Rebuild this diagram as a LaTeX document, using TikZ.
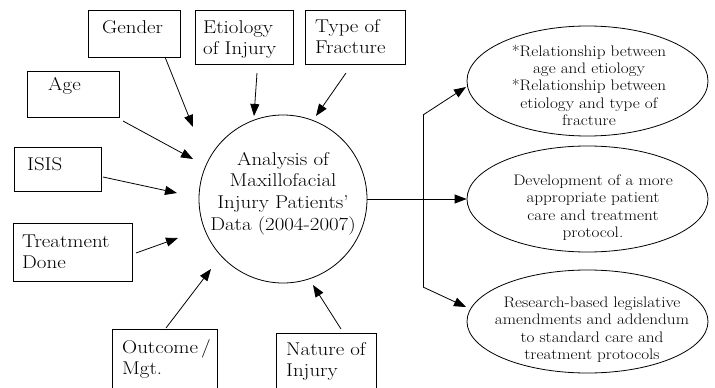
\documentclass[tikz,border=0pt]{standalone}
\usepackage{fontspec}
\setmainfont{Latin Modern Roman}[FakeStretch=1.13]
\usetikzlibrary{arrows.meta,shapes.geometric}
\newcommand\bigtxt{\fontsize{18.5}{21.5}\selectfont}
\newcommand\smalltxt{\fontsize{15.2}{17.5}\selectfont}
\begin{document}
\begin{tikzpicture}[x=1pt,y=-1pt,
  boxst/.style={draw, line width=0.8pt, anchor=north west, inner sep=0pt, outer sep=0pt},
  lbl/.style={anchor=base west, inner sep=0pt, align=left, text width=#1, font=\bigtxt},
  lbl/.default=110pt,
  ctxt/.style={anchor=base, inner sep=0pt, align=center, text width=#1},
  ellst/.style={draw, ellipse, line width=0.8pt, inner sep=0pt, minimum width=241pt, minimum height=#1},
  arr/.style={-{Triangle[length=12pt,width=9pt]}, line width=0.8pt},
  ln/.style={line width=0.8pt}]
\useasboundingbox (0,0) rectangle (715,388);
\fill[white] (0,0) rectangle (715,388);
\clip (0,0) rectangle (715,388);

% input boxes
\node[boxst, minimum width=92pt, minimum height=47pt] (gender) at (88,10) {};
\node[boxst, minimum width=98pt, minimum height=54pt] (etio) at (195,10) {};
\node[boxst, minimum width=100pt, minimum height=54pt] (type) at (305,10) {};
\node[boxst, minimum width=92pt, minimum height=46pt] (age) at (27,71) {};
\node[boxst, minimum width=87pt, minimum height=44pt] (isis) at (14,147) {};
\node[boxst, minimum width=119pt, minimum height=58pt] (treat) at (13,223) {};
\node[boxst, minimum width=105pt, minimum height=80pt] (outc) at (112,329) {};
\node[boxst, minimum width=100pt, minimum height=80pt] (natu) at (276,333) {};

% labels
\node[lbl] (tGender) at (102,33) {Gender};
\node[lbl] (tEtio) at (203,33) {Etiology\\of Injury};
\node[lbl] (tType) at (315,32) {Type of\\Fracture};
\node[lbl] (tAge) at (48,90) {Age};
\node[lbl] (tIsis) at (27,170) {ISIS};
\node[lbl] (tTreat) at (22,247) {Treatment\\Done};
\node[lbl] (tOutc) at (122,353) {Outcome\,/\\Mgt.};
\node[lbl] (tNatu) at (286,355) {Nature of\\Injury};

% central circle
\node[draw, circle, line width=0.8pt, minimum size=168pt, inner sep=0pt] (circ) at (283,199) {};
\node[ctxt=170pt, font=\fontsize{18.5}{21.7}\selectfont] (tCirc) at (283,165)
  {Analysis of\\Maxillofacial\\Injury Patients’\\Data (2004-2007)};

% output ellipses
\node[ellst=110pt] (e1) at (587.5,81) {};
\node[ellst=106pt] (e2) at (587.5,199) {};
\node[ellst=103pt] (e3) at (587.5,321.5) {};
\node[ctxt=230pt, font=\smalltxt] (tE1) at (589,56)
  {{*}Relationship between\\age and etiology\\{*}Relationship between\\etiology and type of\\fracture};
\node[ctxt=230pt, font=\smalltxt] (tE2) at (593,185)
  {Development of a more\\appropriate patient\\care and treatment\\protocol.};
\node[ctxt=230pt, font=\smalltxt] (tE3) at (592,307)
  {Research-based legislative\\amendments and addendum\\to standard care and\\treatment protocols};

% incoming arrows
\coordinate (sG) at (165,57);  \coordinate (hG) at (193,127);
\coordinate (sE) at (257,73);  \coordinate (hE) at (254,116);
\coordinate (sT) at (346,73);  \coordinate (hT) at (316,116);
\coordinate (sA) at (123,121); \coordinate (hA) at (193,159);
\coordinate (sI) at (103,177); \coordinate (hI) at (177,193);
\coordinate (sR) at (136,253); \coordinate (hR) at (178,238);
\coordinate (sO) at (166,328); \coordinate (hO) at (211,269);
\coordinate (sN) at (341,329); \coordinate (hN) at (313,285);
\draw[arr] (sG) -- (hG);
\draw[arr] (sE) -- (hE);
\draw[arr] (sT) -- (hT);
\draw[arr] (sA) -- (hA);
\draw[arr] (sI) -- (hI);
\draw[arr] (sR) -- (hR);
\draw[arr] (sO) -- (hO);
\draw[arr] (sN) -- (hN);

% outgoing arrows
\coordinate (bT) at (423,115);
\coordinate (bB) at (423,287);
\coordinate (h1) at (466,87);
\coordinate (h3) at (466,307);
\draw[arr] (circ.east) -- (e2.west);
\draw[ln] (bT) -- (bB);
\draw[arr] (bT) -- (h1);
\draw[arr] (bB) -- (h3);
\end{tikzpicture}
\end{document}
